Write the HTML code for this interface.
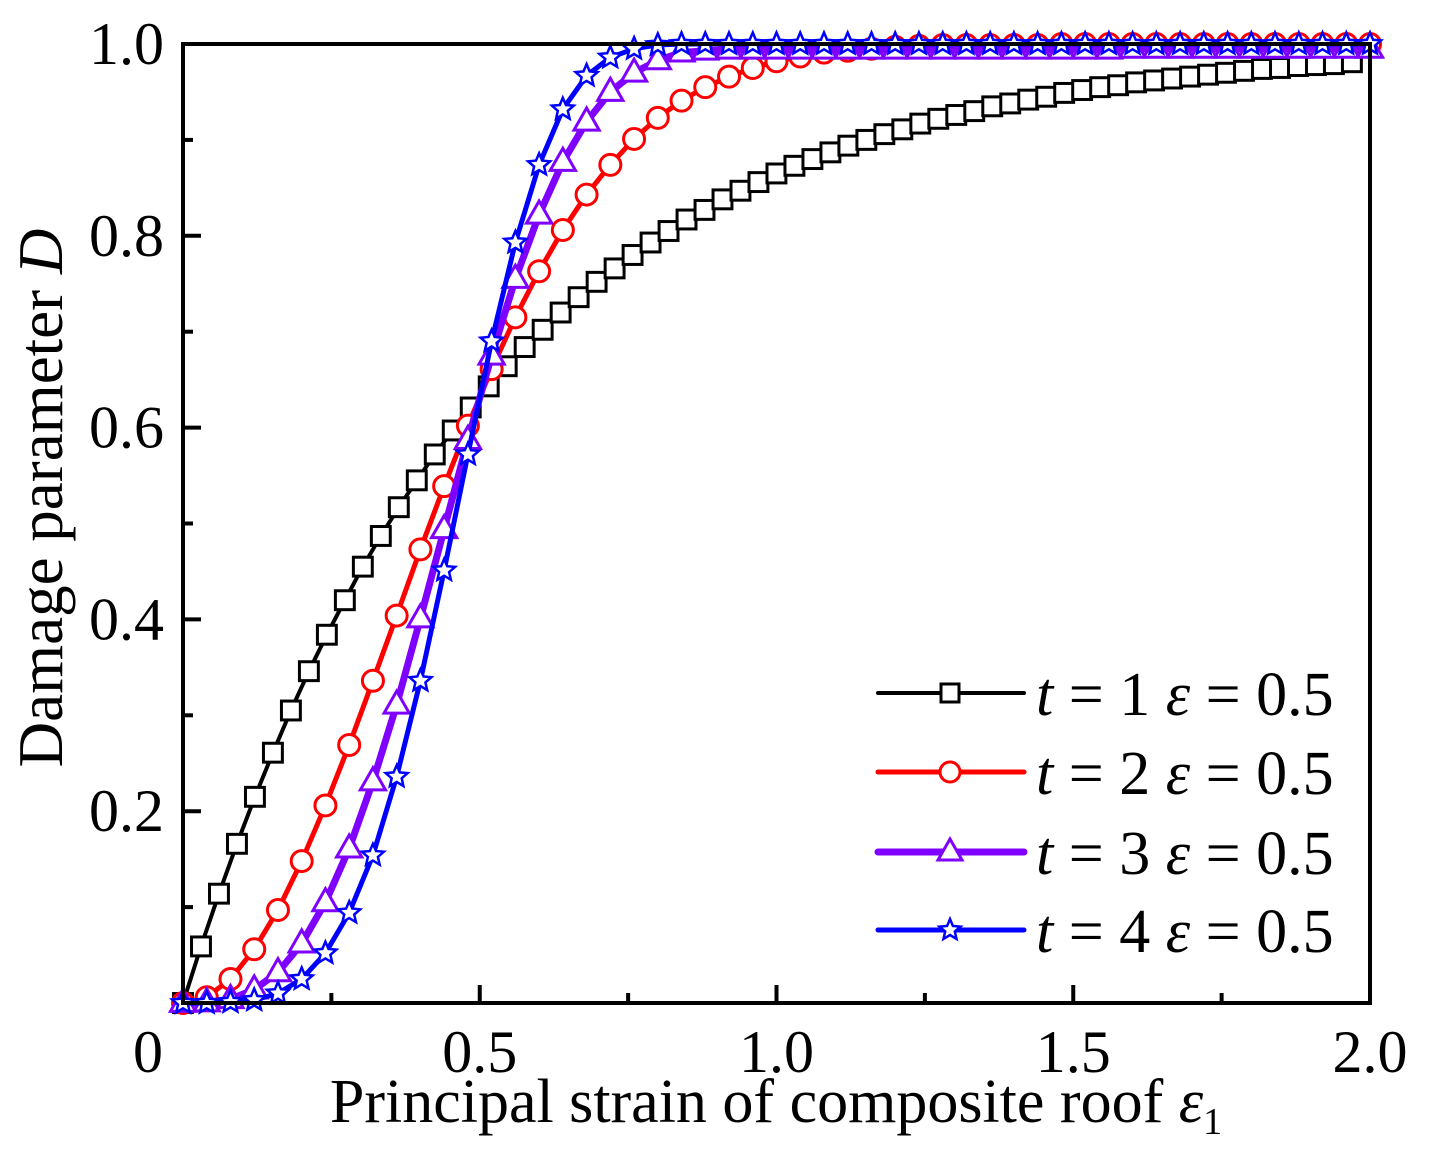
<!DOCTYPE html>
<html><head><meta charset="utf-8">
<style>
html,body{margin:0;padding:0;background:#fff;}
svg{display:block;font-family:"Liberation Serif","DejaVu Serif",serif;}
</style></head>
<body>
<svg id="chart" width="1436" height="1166" viewBox="0 0 1436 1166">
<g id="plot"></g>
<g id="axes"></g>
<g id="legend"></g>
</svg>
<script>
// ---- data ----
const xTicks = [0, 0.5, 1.0, 1.5, 2.0];
const xTickLabels = ["0", "0.5", "1.0", "1.5", "2.0"];
const yTicks = [0.2, 0.4, 0.6, 0.8, 1.0];
const yTickLabels = ["0.2", "0.4", "0.6", "0.8", "1.0"];
const seriesNames = ["t = 1", "t = 2", "t = 3", "t = 4"];
const xStep1 = 0.0303;
const xStep2 = 0.04;
const d1 = [0,0.059,0.114,0.166,0.215,0.261,0.305,0.346,0.384,0.420,0.455,0.487,0.517,0.545,0.572,0.597,0.621,0.643,0.664,0.684,0.702,0.720,0.736,0.752,0.766,0.780,0.793,0.805,0.817,0.827,0.838,0.847,0.856,0.865,0.873,0.880,0.887,0.894,0.900,0.906,0.911,0.917,0.922,0.926,0.930,0.935,0.938,0.942,0.945,0.949,0.952,0.955,0.957,0.960,0.962,0.964,0.966,0.968,0.970,0.972,0.974,0.975,0.977,0.978,0.979,0.981];
const d2 = [0,0.006,0.025,0.056,0.097,0.148,0.206,0.269,0.336,0.404,0.473,0.539,0.602,0.661,0.715,0.763,0.806,0.843,0.874,0.901,0.923,0.941,0.955,0.966,0.975,0.982,0.987,0.991,0.993,0.995,0.997,0.998,0.999,0.999,0.999,0.999,0.999,1,1,1,1,1,1,1,1,1,1,1,1,1,1];
const d3 = [0,0.0005,0.004,0.014,0.032,0.062,0.105,0.161,0.231,0.311,0.401,0.494,0.587,0.675,0.755,0.822,0.877,0.919,0.950,0.970,0.983,0.991,0.993,0.994,0.994,0.994,0.994,0.994,0.994,0.994,0.994,0.994,0.994,0.994,0.994,0.994,0.994,0.994,0.994,0.994,0.995,0.995,0.995,0.995,0.995,0.995,0.995,0.995,0.995,0.995,0.995];
const d4 = [0,0,0.001,0.003,0.010,0.025,0.052,0.094,0.154,0.236,0.336,0.451,0.572,0.690,0.793,0.874,0.932,0.967,0.986,0.995,0.999,1,1,1,1,1,1,1,1,1,1,1,1,1,1,1,1,1,1,1,1,1,1,1,1,1,1,1,1,1,1];

// ---- layout ----
const L=183,R=1370,T=44,B=1003;
const X=v=>L+(v/2)*(R-L);
const Y=v=>B-v*(B-T);
const NS="http://www.w3.org/2000/svg";
function mk(tag,attrs,parent){const e=document.createElementNS(NS,tag);for(const k in attrs)e.setAttribute(k,attrs[k]);parent.appendChild(e);return e;}
const plot=document.getElementById('plot'),axes=document.getElementById('axes'),legend=document.getElementById('legend');

const series=[
 {d:d1,step:xStep1,color:"#000",w:4,m:"square",name:"black-t1"},
 {d:d2,step:xStep2,color:"#ff0000",w:5,m:"circle",name:"red-t2"},
 {d:d3,step:xStep2,color:"#7f00ff",w:7,m:"triangle",name:"purple-t3"},
 {d:d4,step:xStep2,color:"#0000ff",w:5,m:"star",name:"blue-t4"}
];
function marker(type,cx,cy,color,parent,sc){
  sc=sc||1;let e;
  if(type==="square") e=mk('rect',{x:cx-9*sc,y:cy-9*sc,width:18*sc,height:18*sc,fill:"#fff",stroke:color,"stroke-width":3},parent);
  else if(type==="circle") e=mk('circle',{cx:cx,cy:cy,r:10*sc,fill:"#fff",stroke:color,"stroke-width":3},parent);
  else if(type==="triangle") e=mk('polygon',{points:`${cx},${cy-13*sc} ${cx-12*sc},${cy+8*sc} ${cx+12*sc},${cy+8*sc}`,fill:"#fff",stroke:color,"stroke-width":3},parent);
  else {let p=[];for(let k=0;k<10;k++){const a=-Math.PI/2+k*Math.PI/5,r=k%2?5*sc:11*sc;p.push((cx+r*Math.cos(a)).toFixed(1)+","+(cy+r*Math.sin(a)).toFixed(1));}
    e=mk('polygon',{points:p.join(" "),fill:"#fff",stroke:color,"stroke-width":2.5},parent);}
  return e;
}
series.forEach((s)=>{
  const g=mk('g',{},plot);
  
  
  const pts=s.d.map((v,i)=>[X(Math.min(2,i*s.step)),Y(v)]).filter(p=>p[0]<=R+1);
  const line=mk('polyline',{points:pts.map(p=>p.join(",")).join(" "),fill:"none",stroke:s.color,"stroke-width":s.w,"stroke-linejoin":"round"},g);
  
  
  pts.forEach(p=>{const m=marker(s.m,p[0],p[1],s.color,g,1.05);
    
    });
});

// frame
const fr=mk('rect',{x:L,y:T,width:R-L,height:B-T,fill:"none",stroke:"#000","stroke-width":4},axes);


for(let v=0.25;v<2;v+=0.25){const major=Math.abs(v*2-Math.round(v*2))<1e-6;
  const t=mk('line',{x1:X(v),x2:X(v),y1:B,y2:B-(major?18:10),stroke:"#000","stroke-width":4},axes);
  
  }
for(let v=0.1;v<1.0;v+=0.1){const major=Math.round(v*10)%2===0;
  const t=mk('line',{x1:L,x2:L+(major?18:10),y1:Y(v),y2:Y(v),stroke:"#000","stroke-width":4},axes);
  
  }
xTicks.forEach((v,i)=>{
  const x=i===0?148:X(v);
  const t=mk('text',{x:x,y:1072,"font-size":60,"text-anchor":"middle"},axes);t.textContent=xTickLabels[i];
  
  });
yTicks.forEach((v,i)=>{
  const t=mk('text',{x:164,y:Y(v)+20,"font-size":60,"text-anchor":"end"},axes);t.textContent=yTickLabels[i];
  
  });
const xt=mk('text',{x:776,y:1122,"font-size":62,"text-anchor":"middle"},axes);
xt.innerHTML='Principal strain of composite roof <tspan font-style="italic">ε</tspan><tspan font-size="38" dy="12">1</tspan>';


const yt=mk('text',{x:0,y:0,"font-size":63,"text-anchor":"middle",transform:"translate(62,498) rotate(-90)"},axes);
yt.innerHTML='Damage parameter <tspan font-style="italic">D</tspan>';



// legend
const rowsY=[693,772,852,930];
series.forEach((s,i)=>{
  const g=mk('g',{},legend);
  
  
  mk('line',{x1:878,x2:1024,y1:rowsY[i],y2:rowsY[i],stroke:s.color,"stroke-width":s.w,"stroke-linecap":"round"},g);
  marker(s.m,950,rowsY[i],s.color,g,1);
  const t=mk('text',{x:1036,y:rowsY[i]+22,"font-size":62},g);
  const num=seriesNames[i].split("= ")[1];
  t.innerHTML=`<tspan font-style="italic">t</tspan> = ${num} <tspan font-style="italic">ε</tspan> = 0.5`;
});
</script>
</body></html>
